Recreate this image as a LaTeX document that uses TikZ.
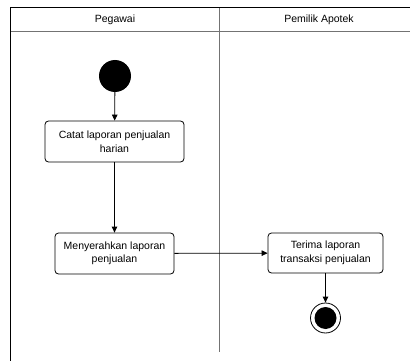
\documentclass[tikz,border=0pt]{standalone}
\usepackage{fontspec}
\setmainfont{Liberation Sans}
\usetikzlibrary{arrows.meta}
\begin{document}
\begin{tikzpicture}[x=1pt,y=-1pt,
  lane/.style={draw=black!55, line width=1pt},
  frame/.style={draw=black, line width=1pt},
  action/.style={draw=black, line width=0.8pt, rounded corners=3.5pt, align=center,
    font=\fontsize{10.5}{13.5}\selectfont, inner sep=0pt},
  flow/.style={draw=black, line width=0.8pt, -{Triangle[length=6pt,width=5.5pt]}},
  header/.style={font=\fontsize{10.5}{12}\selectfont}]
  \useasboundingbox (0,0) rectangle (410,361);
  \begin{scope}
    \clip (0,0) rectangle (410,361);
    % swimlane frame
    \draw[lane] (10,32) -- (420,32);
    \draw[lane] (219,8) -- (219,352);
    \draw[frame] (10,361) -- (10,8) -- (420,8);
  \end{scope}
  \node[header] (h1) at (115,20) {Pegawai};
  \node[header] (h2) at (319,20) {Pemilik Apotek};
  % start
  \node[circle, fill=black, minimum size=32pt, inner sep=0pt] (start) at (115,76) {};
  % actions
  \node[action, minimum width=139pt, minimum height=41pt] (a1) at (114.5,141.5)
    {Catat laporan penjualan\\harian};
  \node[action, minimum width=119pt, minimum height=41pt] (a2) at (114.5,253.5)
    {Menyerahkan laporan\\penjualan};
  \node[action, minimum width=115pt, minimum height=40pt] (a3) at (325.5,253)
    {Terima laporan\\transaksi penjualan};
  % end
  \node[circle, draw=black, line width=0.8pt, minimum size=30pt, inner sep=0pt] (end) at (325.5,318) {};
  \node[circle, fill=black, minimum size=22pt, inner sep=0pt] (endin) at (end) {};
  % flows
  \draw[flow] (start) -- (a1);
  \draw[flow] (a1) -- (a2);
  \draw[flow] (a2) -- (a3);
  \draw[flow] (a3) -- (end);
\end{tikzpicture}
\end{document}
